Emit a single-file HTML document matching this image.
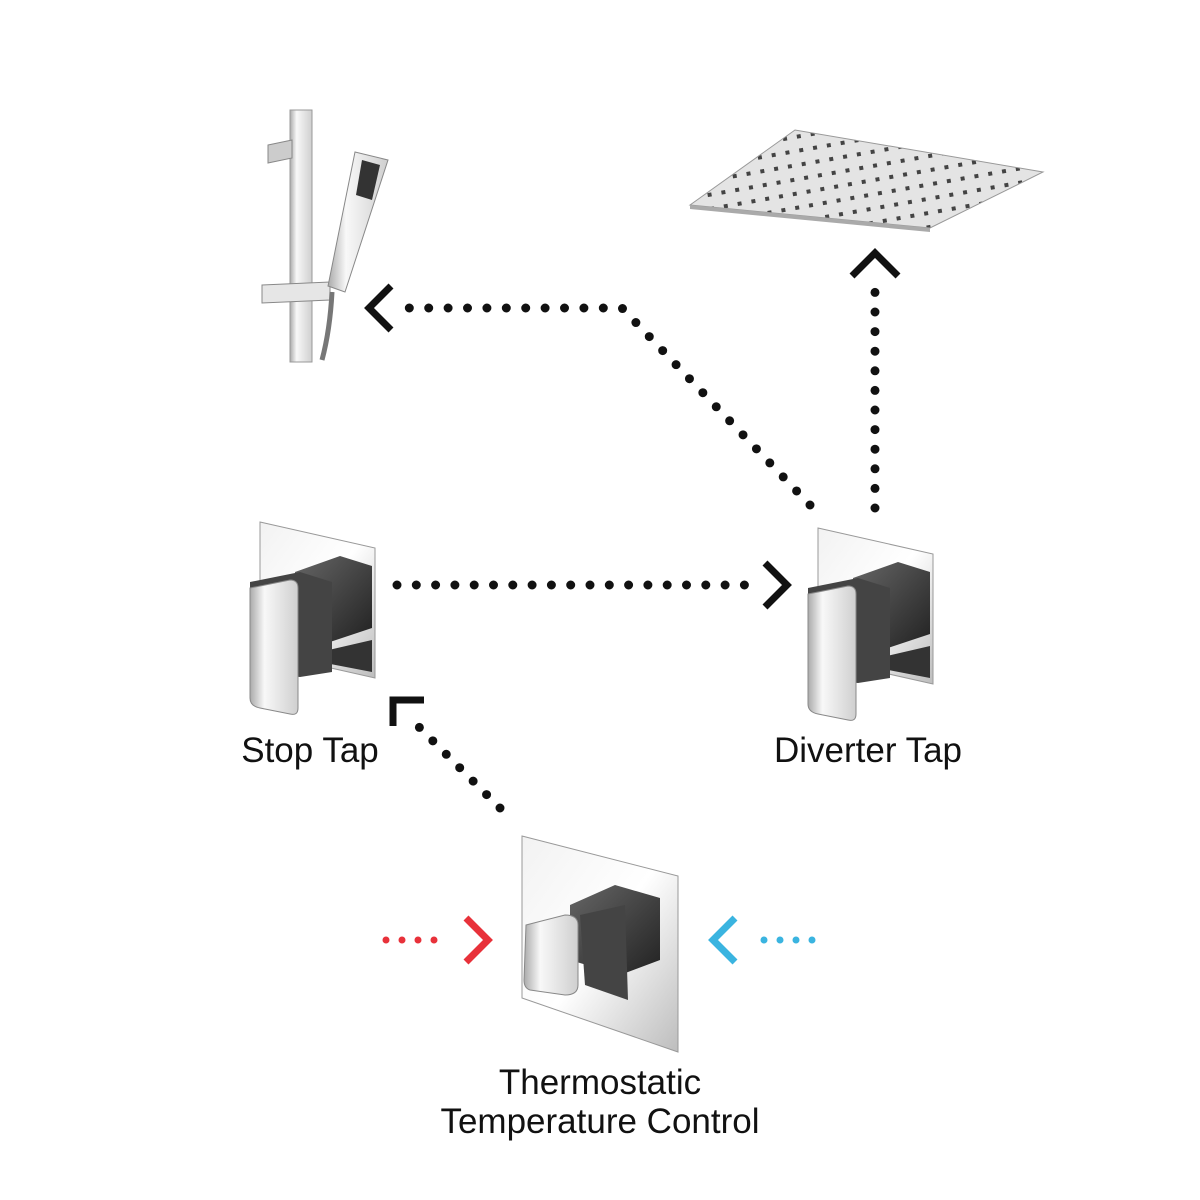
<!DOCTYPE html>
<html><head><meta charset="utf-8"><style>
html,body{margin:0;padding:0;background:#fff;}
svg{display:block;}
text{font-family:"Liberation Sans",sans-serif;fill:#111;}
</style></head><body>
<svg width="1200" height="1200" viewBox="0 0 1200 1200">
<defs>
<linearGradient id="plate" x1="0" y1="0" x2="1" y2="1">
<stop offset="0" stop-color="#f2f2f2"/><stop offset="0.5" stop-color="#ffffff"/><stop offset="1" stop-color="#bdbdbd"/></linearGradient>
<linearGradient id="lever" x1="0" y1="0" x2="1" y2="0">
<stop offset="0" stop-color="#aaa"/><stop offset="0.3" stop-color="#f8f8f8"/><stop offset="1" stop-color="#cfcfcf"/></linearGradient>
<linearGradient id="dark" x1="0" y1="0" x2="1" y2="1">
<stop offset="0" stop-color="#666"/><stop offset="1" stop-color="#222"/></linearGradient>
<pattern id="holes" width="14" height="14" patternUnits="userSpaceOnUse" patternTransform="rotate(-10)">
<rect width="14" height="14" fill="#e4e4e4"/><rect x="5" y="5" width="4" height="4" fill="#444"/></pattern>
<g id="tap">
<polygon points="0,0 115,26 115,156 0,130" fill="url(#plate)" stroke="#999" stroke-width="1"/>
<polygon points="35,50 80,34 112,44 112,106 70,120 35,110" fill="url(#dark)"/>
<polygon points="60,130 112,118 112,150 60,140" fill="#333"/>
<polygon points="-10,60 40,50 72,60 72,150 40,155 -10,150" fill="#444"/>
<path d="M-10,66 L30,58 Q38,58 38,66 L38,186 Q38,194 30,192 L0,186 Q-10,184 -10,176 Z" fill="url(#lever)" stroke="#888" stroke-width="1"/>
</g>
</defs>

<rect x="290" y="110" width="22" height="252" fill="url(#lever)" stroke="#999"/>
<polygon points="268,145 292,140 292,158 268,163" fill="#ccc" stroke="#888"/>
<polygon points="262,285 330,282 330,300 262,303" fill="#e6e6e6" stroke="#888"/>
<polygon points="355,152 388,160 345,292 328,286" fill="url(#lever)" stroke="#888"/>
<polygon points="362,160 380,165 372,200 356,195" fill="#333"/>
<path d="M332,292 Q330,330 322,360" stroke="#777" stroke-width="5" fill="none"/>

<polygon points="690,205 795,130 1043,172 930,228" fill="url(#holes)" stroke="#999"/>
<polygon points="690,205 930,228 930,232 690,209" fill="#aaa"/>

<use href="#tap" x="260" y="522"/>
<use href="#tap" x="818" y="528"/>
<polygon points="522,836 678,876 678,1052 522,998" fill="url(#plate)" stroke="#999"/>
<polygon points="570,905 615,885 660,898 660,960 620,975 570,960" fill="url(#dark)"/>
<polygon points="580,915 625,905 628,1000 585,985" fill="#444"/>
<path d="M526,925 L565,915 Q578,915 578,925 L578,985 Q578,995 565,995 L530,990 Q524,988 524,980 Z" fill="url(#lever)" stroke="#888"/>

<g fill="none" stroke="#111" stroke-width="9" stroke-linecap="round">
<line x1="397" y1="585" x2="745" y2="585" stroke-dasharray="0 19.3"/>
<polyline points="765,563 787,585 765,607" stroke-linecap="butt" stroke-width="7"/>
<line x1="875" y1="508" x2="875" y2="290" stroke-dasharray="0 19.6"/>
<polyline points="852,276 875,253 898,276" stroke-linecap="butt" stroke-width="7"/>
<polyline points="810,505 622,308 395,308" stroke-dasharray="0 19.4"/>
<polyline points="391,286 369,308 391,330" stroke-linecap="butt" stroke-width="7"/>
<line x1="500" y1="808" x2="410" y2="718" stroke-dasharray="0 19"/>
<polyline points="393,726 393,700 424,700" stroke-linecap="butt" stroke-width="7"/>
</g>
<g fill="none" stroke="#e8313a" stroke-width="7" stroke-linecap="round">
<line x1="386" y1="940" x2="450" y2="940" stroke-dasharray="0 16"/>
<polyline points="466,918 488,940 466,962" stroke-linecap="butt"/>
</g>
<g fill="none" stroke="#3ab4e0" stroke-width="7" stroke-linecap="round">
<line x1="812" y1="940" x2="748" y2="940" stroke-dasharray="0 16"/>
<polyline points="735,918 713,940 735,962" stroke-linecap="butt"/>
</g>

<text x="310" y="762" font-size="35" text-anchor="middle">Stop Tap</text>
<text x="868" y="762" font-size="35" text-anchor="middle">Diverter Tap</text>
<text x="600" y="1094" font-size="35" text-anchor="middle">Thermostatic</text>
<text x="600" y="1133" font-size="35" text-anchor="middle">Temperature Control</text>
</svg>
</body></html>
